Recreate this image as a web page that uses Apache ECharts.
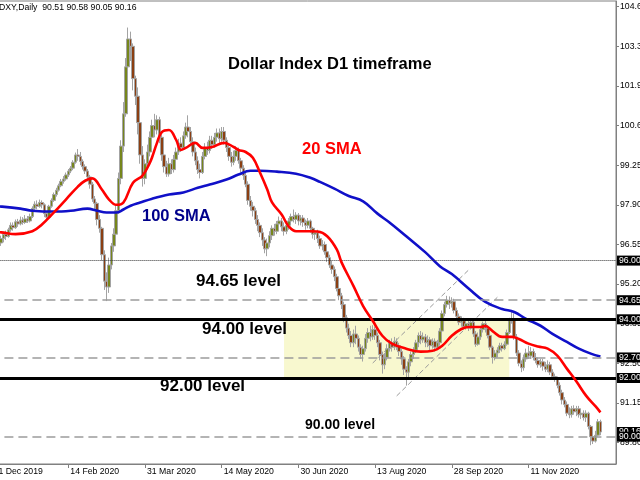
<!DOCTYPE html>
<html><head><meta charset="utf-8">
<script src="https://cdn.jsdelivr.net/npm/echarts@6/dist/echarts.min.js"></script>
<style>html,body{margin:0;padding:0;background:#fff}#c{width:640px;height:480px}</style>
</head><body><div id="c"></div>
<script>
// ---------- DATA ----------
const headerText = 'DXY,Daily  90.51 90.58 90.05 90.16';
const tickBars = [-4, 28, 60, 92, 124, 156, 188, 220];
const tickLabels = ['31 Dec 2019','14 Feb 2020','31 Mar 2020','14 May 2020','30 Jun 2020','13 Aug 2020','28 Sep 2020','11 Nov 2020'];
const preBars = 4;      // bars before first fully visible bar (index -4..-1)
const emptyBarsRight = 6;
const priceTicks = [104.65, 103.30, 101.95, 100.60, 99.25, 97.90, 96.55, 95.20, 93.85, 92.50, 91.15, 89.80];
const levelValues = [96.00, 94.65, 94.00, 92.70, 92.00, 90.00];
const lastPrice = 90.16;
const zoneBars = [118, 212];
const zonePrices = [92.00, 94.00];
const channelUpper = [[155, 92.51], [195, 95.68]];
const channelLower = [[165, 91.39], [207, 94.75]];

// candles [open, close, low, high]; bar index -4..59
const ohlcJanMar = [
[96.70,96.55,96.45,96.80],[96.55,96.75,96.50,96.85],[96.75,96.60,96.48,96.82],[96.60,96.62,96.40,96.72],
[96.60,96.75,96.50,96.85],[96.75,96.90,96.62,96.98],[96.90,96.82,96.70,97.02],[96.82,97.05,96.78,97.12],
[97.05,97.20,96.98,97.30],[97.20,97.12,97.02,97.30],[97.12,97.32,97.08,97.40],[97.32,97.25,97.15,97.42],
[97.25,97.38,97.20,97.50],[97.38,97.30,97.22,97.48],[97.30,97.42,97.25,97.55],[97.42,97.35,97.28,97.52],
[97.35,97.50,97.30,97.60],[97.50,97.78,97.45,97.85],[97.78,97.92,97.70,98.02],[97.92,97.85,97.75,98.05],
[97.85,97.98,97.80,98.08],[97.98,97.90,97.78,98.05],[97.90,97.60,97.48,97.95],[97.60,97.48,97.38,97.68],
[97.48,97.85,97.42,97.90],[97.85,98.05,97.80,98.12],[98.05,98.25,98.00,98.32],[98.25,98.40,98.18,98.48],
[98.40,98.55,98.35,98.62],[98.55,98.70,98.50,98.78],[98.70,98.78,98.62,98.88],[98.78,98.92,98.72,99.00],
[98.92,99.05,98.85,99.12],[99.05,99.15,98.98,99.22],[99.15,99.35,99.08,99.42],[99.35,99.60,99.30,99.68],
[99.60,99.55,99.40,99.80],[99.55,99.38,99.25,99.70],[99.38,99.20,99.10,99.45],[99.20,99.05,98.95,99.28],
[99.05,98.85,98.70,99.12],[98.85,98.60,98.45,98.92],[98.60,98.10,98.00,98.68],[98.10,97.95,97.70,98.20],
[97.95,97.40,97.20,98.00],[97.40,97.10,96.95,97.55],[97.10,96.20,96.00,97.15],[96.20,95.30,95.00,96.35],
[95.30,95.10,94.62,95.60],[95.10,95.85,94.90,96.10],[95.85,96.50,95.70,96.60],[96.50,96.90,96.30,97.10],
[96.90,97.70,96.80,97.90],[97.70,98.80,97.60,99.00],[98.80,99.90,98.60,100.10],[99.90,101.00,99.70,101.40],
[101.00,102.60,100.90,102.90],[102.60,103.55,102.40,103.94],[103.55,103.30,102.80,103.80],[103.30,102.20,101.80,103.40],
[102.20,101.60,101.30,102.30],[101.60,100.70,100.30,101.90],[100.70,99.60,99.30,100.90],[99.60,98.80,98.52,99.90]
];
// bar index 60..123
const ohlcAprJun = [
[98.80,99.30,98.60,99.45],[99.30,99.70,99.10,99.95],[99.70,100.20,99.55,100.40],[100.20,100.60,100.05,100.80],
[100.60,100.45,100.20,101.00],[100.45,100.80,100.30,100.95],[100.80,100.20,100.00,100.90],[100.20,99.60,99.40,100.30],
[99.60,99.20,99.00,99.80],[99.20,98.95,98.85,99.40],[98.95,99.30,98.86,99.50],[99.30,99.10,98.95,99.45],
[99.10,99.45,99.00,99.60],[99.45,99.70,99.35,99.85],[99.70,100.00,99.60,100.15],[100.00,99.85,99.70,100.20],
[99.85,100.25,99.80,100.40],[100.25,100.55,100.15,100.70],[100.55,100.40,100.20,100.95],[100.40,100.05,99.90,100.55],
[100.05,99.70,99.55,100.20],[99.70,99.40,99.25,99.85],[99.40,99.10,98.95,99.55],[99.10,99.00,98.80,99.30],
[99.00,99.55,98.95,99.70],[99.55,99.85,99.45,100.00],[99.85,99.75,99.60,100.05],[99.75,100.10,99.65,100.25],
[100.10,99.95,99.80,100.25],[99.95,100.20,99.85,100.35],[100.20,100.35,100.05,100.50],[100.35,100.15,100.00,100.50],
[100.15,100.40,100.05,100.55],[100.40,100.10,99.95,100.55],[100.10,99.85,99.70,100.20],[99.85,99.55,99.40,99.95],
[99.55,99.35,99.20,99.70],[99.35,99.55,99.25,99.75],[99.55,99.75,99.40,99.90],[99.75,99.40,99.30,99.85],
[99.40,99.15,99.00,99.50],[99.15,98.90,98.75,99.25],[98.90,98.60,98.50,99.05],[98.60,98.05,97.90,98.70],
[98.05,97.85,97.70,98.20],[97.85,97.70,97.50,98.00],[97.70,97.40,97.25,97.80],[97.40,97.20,97.00,97.55],
[97.20,96.95,96.80,97.30],[96.95,96.70,96.50,97.10],[96.70,96.40,96.25,96.80],[96.40,96.60,96.15,96.75],
[96.60,96.85,96.45,97.00],[96.85,97.10,96.70,97.20],[97.10,97.00,96.85,97.25],[97.00,97.25,96.90,97.35],
[97.25,97.35,97.10,97.50],[97.35,97.15,97.00,97.45],[97.15,97.00,96.85,97.30],[97.00,97.20,96.90,97.35],
[97.20,97.35,97.05,97.45],[97.35,97.50,97.25,97.60],[97.50,97.40,97.30,97.74],[97.40,97.55,97.25,97.65]
];
// bar index 124..187
const ohlcJulSep = [
[97.55,97.35,97.20,97.62],[97.35,97.45,97.20,97.55],[97.45,97.30,97.15,97.55],[97.30,97.20,97.05,97.40],
[97.20,97.35,97.10,97.45],[97.35,97.10,96.95,97.40],[97.10,96.90,96.75,97.15],[96.90,96.95,96.70,97.10],
[96.95,96.75,96.60,97.05],[96.75,96.50,96.40,96.85],[96.50,96.55,96.35,96.70],[96.55,96.30,96.20,96.65],
[96.30,96.10,95.95,96.40],[96.10,95.85,95.75,96.20],[95.85,95.70,95.55,96.00],[95.70,95.45,95.30,95.80],
[95.45,95.05,94.95,95.55],[95.05,94.80,94.65,95.15],[94.80,94.50,94.35,94.90],[94.50,94.05,93.90,94.60],
[94.05,93.70,93.55,94.15],[93.70,93.45,93.33,93.85],[93.45,93.20,93.05,93.60],[93.20,93.50,93.05,93.65],
[93.50,93.35,93.15,93.78],[93.35,93.05,92.90,93.45],[93.05,92.80,92.65,93.15],[92.80,93.00,92.56,93.10],
[93.00,93.35,92.90,93.50],[93.35,93.55,93.20,93.70],[93.55,93.40,93.25,93.78],[93.40,93.65,93.30,93.80],
[93.65,93.45,93.30,93.75],[93.45,93.20,93.05,93.55],[93.20,92.80,92.60,93.30],[92.80,92.45,92.15,92.90],
[92.45,92.70,92.30,92.85],[92.70,93.00,92.60,93.15],[93.00,93.20,92.90,93.30],[93.20,93.05,92.90,93.35],
[93.05,93.25,92.95,93.40],[93.25,93.10,92.95,93.35],[93.10,92.90,92.75,93.20],[92.90,92.65,92.45,93.00],
[92.65,92.30,92.10,92.75],[92.30,92.20,91.74,92.40],[92.20,92.55,92.00,92.65],[92.55,92.80,92.40,92.90],
[92.80,92.95,92.65,93.05],[92.95,93.20,92.85,93.30],[93.20,93.45,93.05,93.55],[93.45,93.30,93.15,93.60],
[93.30,93.40,93.20,93.55],[93.40,93.20,93.05,93.50],[93.20,93.30,93.05,93.45],[93.30,93.10,92.95,93.40],
[93.10,93.25,93.00,93.35],[93.25,93.05,92.90,93.35],[93.05,93.20,92.95,93.30],[93.20,93.60,93.10,93.70],
[93.60,94.20,93.55,94.30],[94.20,94.50,94.10,94.60],[94.50,94.65,94.40,94.80],[94.65,94.55,94.35,94.78]
];
// bar index 188..250
const ohlcOctDec = [
[94.55,94.60,94.40,94.75],[94.60,94.30,94.20,94.70],[94.30,94.10,93.95,94.40],[94.10,93.90,93.80,94.20],
[93.90,93.95,93.75,94.10],[93.95,93.75,93.65,94.05],[93.75,93.85,93.65,93.95],[93.85,93.70,93.60,94.00],
[93.70,93.90,93.65,94.00],[93.90,93.50,93.40,94.00],[93.50,93.15,93.06,93.60],[93.15,93.40,93.10,93.55],
[93.40,93.65,93.30,93.75],[93.65,93.85,93.55,93.92],[93.85,93.70,93.55,93.95],[93.70,93.45,93.35,93.80],
[93.45,93.05,92.95,93.55],[93.05,92.70,92.49,93.10],[92.70,92.85,92.60,92.95],[92.85,92.95,92.70,93.05],
[92.95,93.10,92.85,93.20],[93.10,93.00,92.90,93.20],[93.00,93.15,92.95,93.25],[93.15,93.55,93.10,93.65],
[93.55,93.95,93.50,94.05],[93.95,94.00,93.85,94.28],[94.00,93.40,93.30,94.20],[93.40,92.85,92.75,93.50],
[92.85,92.50,92.40,92.95],[92.50,92.35,92.20,92.60],[92.35,92.65,92.25,92.80],[92.65,92.85,92.55,93.00],
[92.85,92.75,92.65,93.10],[92.75,92.90,92.65,93.05],[92.90,92.70,92.60,93.00],[92.70,92.60,92.50,92.85],
[92.60,92.45,92.35,92.70],[92.45,92.55,92.35,92.65],[92.55,92.40,92.25,92.65],[92.40,92.30,92.20,92.55],
[92.30,92.45,92.20,92.60],[92.45,92.20,92.10,92.55],[92.20,92.05,91.95,92.30],[92.05,91.95,91.87,92.15],
[91.95,91.75,91.65,92.05],[91.75,91.50,91.40,91.85],[91.50,91.25,91.10,91.60],[91.25,91.10,91.00,91.35],
[91.10,90.80,90.70,91.20],[90.80,90.75,90.63,91.00],[90.75,90.95,90.65,91.05],[90.95,90.85,90.75,91.07],
[90.85,90.95,90.70,91.05],[90.95,90.75,90.65,91.05],[90.75,90.80,90.60,90.95],[90.80,90.65,90.55,90.90],
[90.65,90.80,90.50,90.90],[90.80,90.35,90.25,90.85],[90.35,90.00,89.71,90.40],[90.00,89.85,89.75,90.15],
[89.85,90.05,89.80,90.20],[90.05,90.51,90.00,90.60],[90.51,90.16,90.05,90.58]
];
// moving averages: [bar index, value]
const sma20 = [[-4,96.98],[0,96.96],[6,96.90],[13,97.0],[17,97.23],[22,97.64],[27,98.08],[32,98.52],[35,98.72],[38,98.8],
[42,98.42],[45,98.08],[48,97.9],[51,97.98],[55,98.65],[59,98.9],[62,99.33],[63,99.53],[65,100.01],[67,100.38],[70,100.45],
[73,100.11],[75,99.77],[77,99.84],[81,100.01],[84,99.84],[88,99.87],[93,100.01],[97,99.87],[99,99.77],[102,99.70],
[105,99.5],[108,98.99],[111,98.42],[113,97.98],[117,97.57],[120,97.16],[123,97.0],[129,97.0],[132,96.99],[136,96.83],
[140,96.38],[142,95.94],[147,95.13],[151,94.45],[155,93.95],[159,93.44],[163,93.17],[169,93.0],[175,92.9],[180,92.93],
[184,93.1],[188,93.44],[192,93.67],[195,93.74],[200,93.74],[202,93.77],[205,93.6],[209,93.4],[213,93.4],[216,93.33],
[220,93.17],[224,93.07],[228,93.0],[232,92.76],[236,92.32],[240,91.88],[244,91.4],[248,91.03],[250,90.83]];
const sma100 = [[-4,97.86],[0,97.84],[8,97.77],[13,97.7],[22,97.67],[29,97.7],[36,97.77],[40,97.7],[44,97.64],[48,97.64],
[51,97.74],[54,97.87],[58,97.98],[63,98.11],[70,98.25],[76,98.32],[82,98.48],[87,98.59],[94,98.76],[99,98.93],[104,99.06],
[108,99.06],[115,99.03],[123,98.96],[129,98.82],[133,98.68],[139,98.45],[145,98.2],[151,98.02],[157,97.6],[162,97.3],
[169,96.83],[177,96.28],[183,95.81],[188,95.54],[195,95.05],[202,94.59],[209,94.35],[214,94.25],[219,94.01],[225,93.78],
[230,93.5],[236,93.23],[241,93.0],[246,92.83],[250,92.73]];

// ---------- BUILD ----------
const candles = ohlcJanMar.concat(ohlcAprJun, ohlcJulSep, ohlcOctDec);
const nCats = candles.length + emptyBarsRight;
const cats = [];
for (let k = 0; k < nCats; k++) cats.push('b' + (k - preBars));
const tickMap = {};
tickBars.forEach((b, j) => { tickMap[b + preBars] = tickLabels[j]; });
const shift = arr => arr.map(p => [p[0] + preBars, p[1]]);

const FONT = '"Liberation Sans", Arial, sans-serif';
const dashedGrey = { type: [9, 5], color: '#9c9c9c', width: 1.5 };
const levelStyles = [
  { type: 'dotted', color: '#333', width: 1 },
  dashedGrey,
  { type: 'solid', color: '#000', width: 3 },
  dashedGrey,
  { type: 'solid', color: '#000', width: 3 },
  dashedGrey
];
const boxLabel = v => ({
  show: true, position: 'end', distance: 1, formatter: v.toFixed(2),
  backgroundColor: '#000', color: '#fff', padding: [1, 4, 0, 2],
  fontSize: 8.7, fontFamily: FONT
});
const markData = levelValues.map((v, j) => ({ yAxis: v, lineStyle: levelStyles[j], label: boxLabel(v) }));
markData.unshift({ yAxis: lastPrice, lineStyle: { color: 'rgba(0,0,0,0)', width: 1 }, label: boxLabel(lastPrice) });

const chart = echarts.init(document.getElementById('c'), null, { renderer: 'canvas' });
const txt = (t, left, top, size, color) => ({
  type: 'text', left: left, top: top, z: 100,
  style: { text: t, fill: color, font: 'bold ' + size + 'px ' + FONT }
});
chart.setOption({
  animation: false,
  backgroundColor: '#fff',
  grid: { left: -9.6, right: 24, top: 1, bottom: 16, show: true, borderColor: '#808080', borderWidth: 1,
    containLabel: false, outerBoundsMode: 'none' },
  xAxis: {
    type: 'category', data: cats, boundaryGap: true,
    axisLine: { lineStyle: { color: '#808080' } },
    axisTick: { show: true, alignWithLabel: true, length: 4, interval: i => tickMap[i] !== undefined, lineStyle: { color: '#808080' } },
    axisLabel: { interval: i => tickMap[i] !== undefined, formatter: (v, i) => tickMap[i] || '', align: 'left',
      margin: 3, fontSize: 8.7, color: '#000', fontFamily: FONT, padding: [0, 0, 0, 2], hideOverlap: false },
    splitLine: { show: false }
  },
  yAxis: {
    type: 'value', position: 'right', min: 89.07, max: 104.844, scale: true,
    splitLine: { show: false },
    axisLine: { show: true, lineStyle: { color: '#808080' } },
    axisTick: { show: true, length: 3, customValues: priceTicks, lineStyle: { color: '#808080' } },
    axisLabel: { customValues: priceTicks, formatter: v => v.toFixed(2), fontSize: 8.7, color: '#000', margin: 4, fontFamily: FONT }
  },
  series: [
    { type: 'line', data: [], z: 0, silent: true,
      markArea: { silent: true, itemStyle: { color: '#f8f8cf' },
        data: [[{ xAxis: zoneBars[0] + preBars, yAxis: zonePrices[0] }, { xAxis: zoneBars[1] + preBars, yAxis: zonePrices[1] }]] } },
    { type: 'candlestick', data: candles, z: 2, barWidth: 3, silent: true,
      itemStyle: { color: '#76861c', color0: '#8b3f12', borderColor: '#a3a3a3', borderColor0: '#a3a3a3', borderWidth: 1 },
      markLine: { symbol: 'none', silent: true, data: markData } },
    { type: 'line', data: shift(channelUpper), z: 3, symbol: 'none', silent: true,
      lineStyle: { color: '#9a9a9a', width: 1, type: [5, 3] } },
    { type: 'line', data: shift(channelLower), z: 3, symbol: 'none', silent: true,
      lineStyle: { color: '#9a9a9a', width: 1, type: [5, 3] } },
    { type: 'line', data: shift(sma100), z: 4, symbol: 'none', smooth: 0.4, silent: true,
      lineStyle: { color: '#1010c8', width: 2.6 } },
    { type: 'line', data: shift(sma20), z: 5, symbol: 'none', smooth: 0.4, silent: true,
      lineStyle: { color: '#ff0000', width: 2.6 } }
  ],
  graphic: [
    { type: 'text', left: -1, top: 3, z: 100, style: { text: headerText, fill: '#000', font: '8.7px ' + FONT } },
    txt('Dollar Index D1 timeframe', 228, 56, 16.5, '#000'),
    txt('20 SMA', 302, 141, 16.5, '#ff0000'),
    txt('100 SMA', 142, 208, 16.5, '#00008b'),
    txt('94.65 level', 196, 273, 17, '#000'),
    txt('94.00 level', 202, 321, 17, '#000'),
    txt('92.00 level', 160, 378, 17, '#000'),
    txt('90.00 level', 305, 418, 14, '#000')
  ]
});
</script></body></html>
